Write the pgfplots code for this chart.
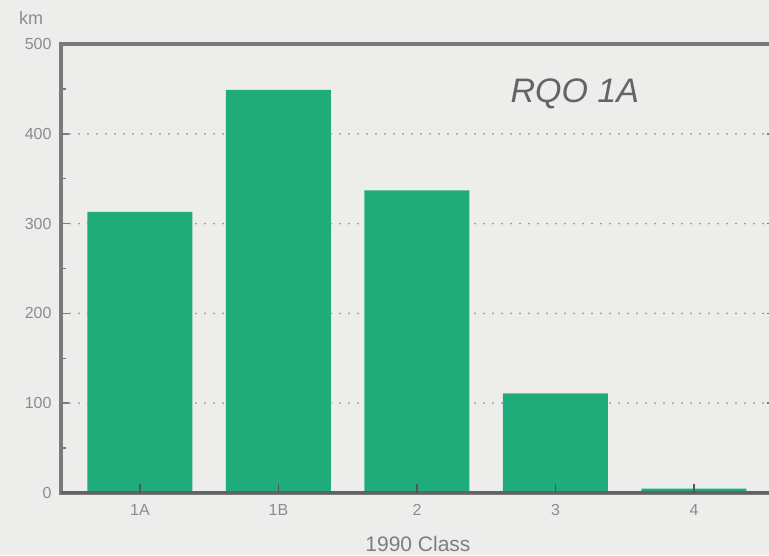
\documentclass[border=0pt]{standalone}
\usepackage{fontspec}
\setmainfont{Liberation Sans}
\usepackage{pgfplots}
\usepackage{pgfplotstable}
\pgfplotsset{compat=1.18}

\definecolor{bargreen}{RGB}{32,172,122}
\definecolor{paper}{RGB}{237,238,235}
\definecolor{framegray}{RGB}{122,122,122}
\definecolor{labelgray}{RGB}{140,140,140}
\definecolor{titlegray}{RGB}{100,100,100}
\definecolor{dotgray}{RGB}{150,150,150}

% River length (km) by 1990 class
\pgfplotstableread{
idx km
0   313
1   449
2   337
3   111
4   5
}\lengthtable

\begin{document}
\begin{tikzpicture}
\useasboundingbox (0pt,0pt) rectangle (769pt,555pt);
\fill[paper] (0pt,0pt) rectangle (769pt,555pt);
\clip (0pt,0pt) rectangle (769pt,555pt);

\begin{axis}[
  at={(61pt,62pt)}, anchor=south west,
  scale only axis, width=714pt, height=449pt,
  xmin=-0.57, xmax=4.585, ymin=0, ymax=500,
  axis line style={draw=framegray, line width=3.5pt},
  ytick={0,100,...,500}, minor ytick={50,150,...,450},
  xtick={0,1,2,3,4}, xticklabels={1A,1B,2,3,4},
  tick align=inside, major tick length=8pt, minor tick length=5pt,
  tick style={draw=framegray, line width=1.5pt},
  xtick style={draw=none},
  ymajorgrids,
  grid style={draw=dotgray, line width=2pt, line cap=round, dash pattern=on 0pt off 9pt},
  /pgf/number format/assume math mode=true,
  ticklabel style={font=\fontsize{16}{16}\selectfont, text=labelgray},
  yticklabel style={xshift=-6pt},
  xticklabel style={yshift=-8pt},
  xlabel={1990 Class},
  xlabel style={at={(axis description cs:0.5,0)}, anchor=center, yshift=-51pt,
                font=\fontsize{21}{21}\selectfont, text=labelgray!90!black},
]
\addplot[ybar, bar width=105pt, fill=bargreen, draw=none]
  table[x=idx, y=km] {\lengthtable};

% bottom axis line and class ticks on top of the bars
\draw[framegray!80!black, line width=3.5pt]
  (rel axis cs:0,0) -- (rel axis cs:1,0);
\foreach \c in {0,1,2,3,4} {
  \edef\tmp{\noexpand\draw[framegray!70!black, line width=1.5pt]
    (axis cs:\c,0) -- ++(0pt,9pt);}\tmp
}

\node[font=\fontsize{34}{34}\selectfont\itshape, text=titlegray]
  at (axis cs:3.14,445) {RQO 1A};
\end{axis}

\node[font=\fontsize{18}{18}\selectfont, text=labelgray] at (31pt,537pt) {km};
\end{tikzpicture}
\end{document}
